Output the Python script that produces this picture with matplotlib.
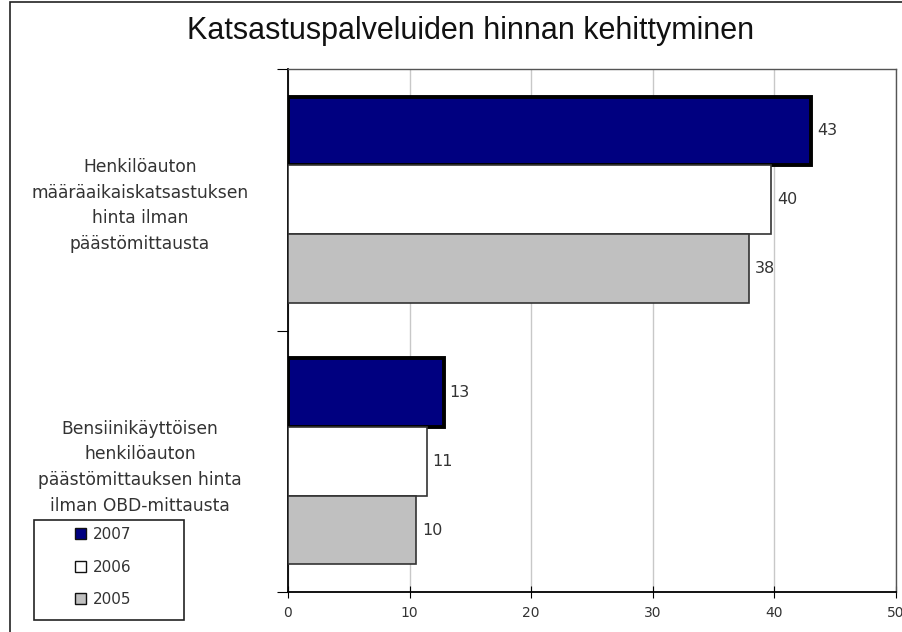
import numpy as np
import matplotlib.pyplot as plt
from matplotlib.patches import Rectangle

title = "Katsastuspalveluiden hinnan kehittyminen"
categories = ["Henkilöauton\nmääräaikaiskatsastuksen\nhinta ilman\npäästömittausta",
              "Bensiinikäyttöisen\nhenkilöauton\npäästömittauksen hinta\nilman OBD-mittausta"]
years = ["2007", "2006", "2005"]
values_2007 = [43.0, 12.8]
values_2006 = [39.75, 11.4]
values_2005 = [37.9, 10.5]
labels_2007 = ["43", "13"]
labels_2006 = ["40", "11"]
labels_2005 = ["38", "10"]

colors = ["#000080", "#ffffff", "#c0c0c0"]
edges = ["#000000", "#333333", "#333333"]
lws = [2.8, 1.2, 1.2]

fig = plt.figure(figsize=(9.02, 6.32), dpi=100)
# outer chart frame
fig.patches.append(Rectangle((10/902, -0.1), 1.2, 1.1 - 2/632, transform=fig.transFigure,
                             fill=False, edgecolor="#222222", lw=1.2))

ax = fig.add_axes([288/902, 40/632, 608/902, 523/632])

h = 0.263
centers = np.array([0.5, 1.5])
series = [values_2007, values_2006, values_2005]
labs = [labels_2007, labels_2006, labels_2005]
for i, (vals, lab) in enumerate(zip(series, labs)):
    ypos = centers + (i - 1) * h
    ax.barh(ypos, vals, height=h, color=colors[i], edgecolor=edges[i], linewidth=lws[i],
            label=years[i], zorder=3)
    for y, v, t in zip(ypos, vals, lab):
        ax.text(v + 0.5, y, t, va="center", ha="left", fontsize=11.5, color="#333333")

ax.set_xlim(0, 50)
ax.set_ylim(2, 0)
ax.set_xticks([0, 10, 20, 30, 40, 50])
ax.tick_params(axis="x", direction="inout", length=8, labelsize=10, labelcolor="#333333", pad=6)
ax.set_yticks([0, 1, 2])
ax.set_yticklabels([])
ax.tick_params(axis="y", which="major", direction="out", length=8)
ax.set_yticks(centers, minor=True)
ax.set_yticklabels(categories, minor=True, multialignment="center", fontsize=12.3,
                   color="#333333", linespacing=1.55)
ax.tick_params(axis="y", which="minor", length=0, pad=0)
for t in ax.get_yticklabels(minor=True):
    t.set_horizontalalignment("center")
    t.set_x(-148 / 608)
ax.grid(axis="x", color="#c8c8c8", lw=1, zorder=0)
for s in ["top", "right"]:
    ax.spines[s].set_color("#555555")
    ax.spines[s].set_linewidth(1)
for s in ["left", "bottom"]:
    ax.spines[s].set_linewidth(1.3)

fig.text(471/902, 1 - 31/632, title, ha="center", va="center", fontsize=22,
         family="Liberation Sans", color="#111111")

# legend box drawn separately so it can be as wide as in the original
fig.patches.append(Rectangle((34/902, 1 - 620/632), 150/902, 100/632, transform=fig.transFigure,
                             fill=False, edgecolor="#222222", lw=1.2))
leg = fig.legend(loc="center", bbox_to_anchor=(103/902, 1 - 567/632), frameon=False,
                 fontsize=11, handlelength=0.75, handleheight=0.75, labelspacing=1.15,
                 handletextpad=0.4, borderaxespad=0)
for t in leg.get_texts():
    t.set_color("#333333")
for p in leg.legend_handles:
    p.set_linewidth(1)
    p.set_edgecolor("#111111")

fig.savefig("out.png", dpi=100)
